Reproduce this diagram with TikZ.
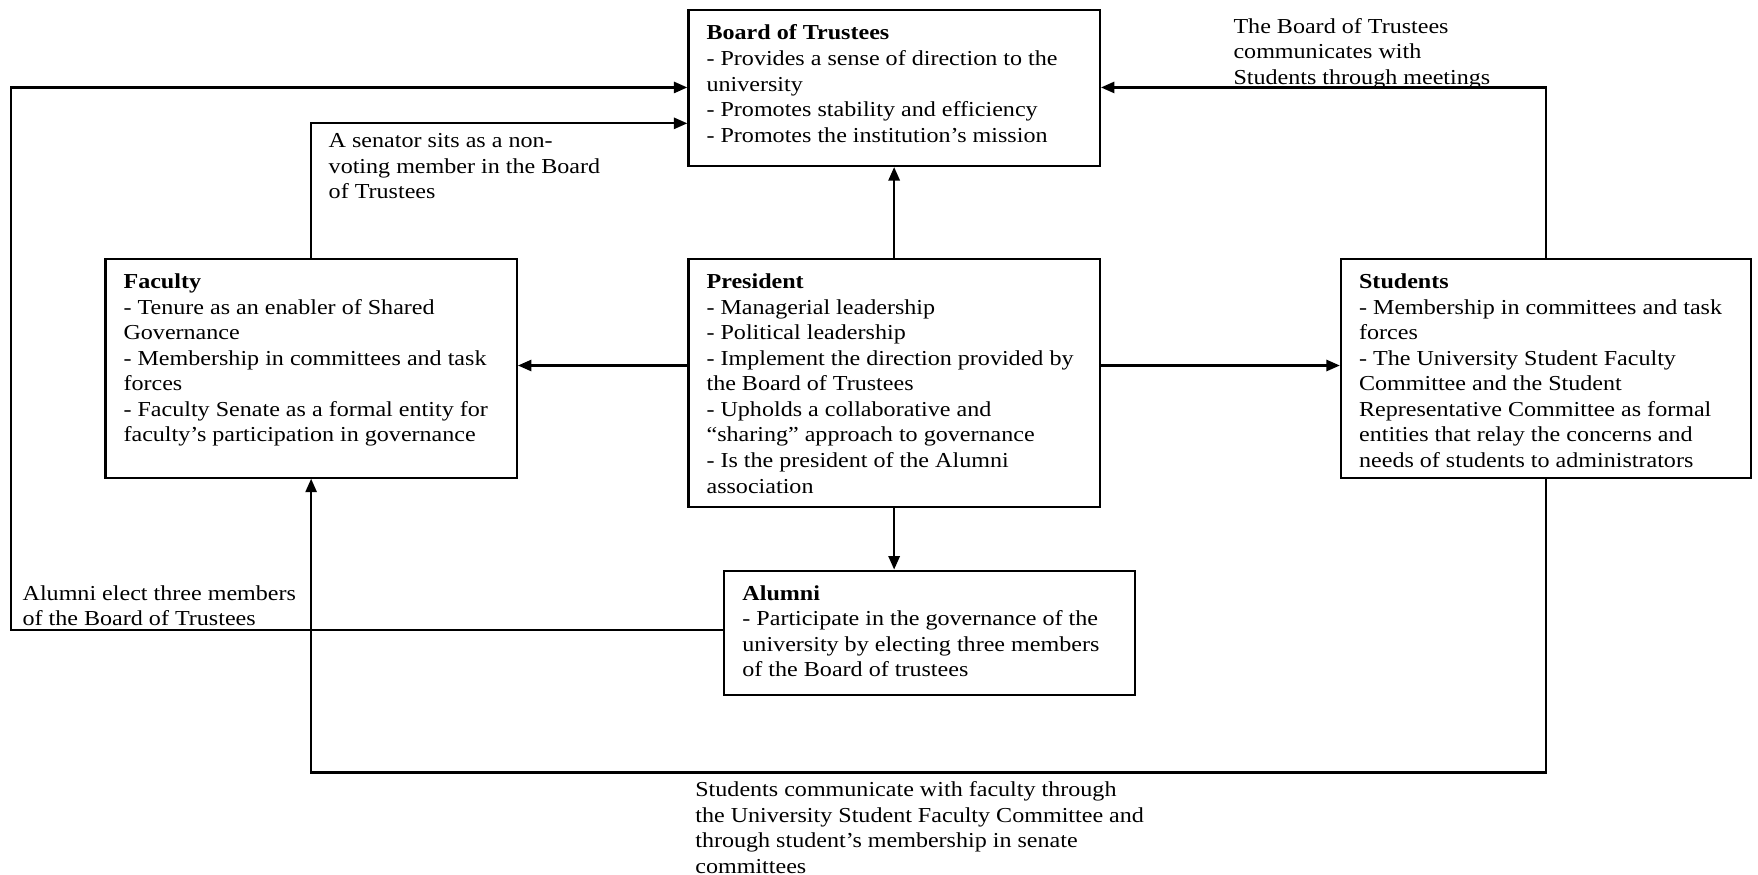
\documentclass[tikz,border=0pt]{standalone}
\usepackage{fontspec}
\setmainfont{Liberation Serif}[FakeStretch=1.13]
\usetikzlibrary{arrows.meta}
\begin{document}
\begin{tikzpicture}[x=1pt,y=-1pt,
  box/.style={draw, line width=2pt, rectangle, inner sep=0pt, anchor=north west},
  txt/.style={inner sep=0pt, align=left, anchor=north west, yshift=-3pt,
    font=\fontsize{19}{22.8}\selectfont, execute at begin node=\rule{0pt}{15pt}},
  conn/.style={line width=2pt},
  arr/.style={conn, -{Triangle[length=12pt,width=10pt]}}]
\useasboundingbox (0,0) rectangle (1568,780);

% boxes
\node[box, minimum width=367pt, minimum height=139pt] (board) at (613,8) {};
\node[box, minimum width=367pt, minimum height=195pt] (fac) at (93,230) {};
\node[box, minimum width=367pt, minimum height=221pt] (pres) at (613,230) {};
\node[box, minimum width=366pt, minimum height=195pt] (stud) at (1195,230) {};
\node[box, minimum width=366pt, minimum height=111pt] (alum) at (645,508) {};

% box contents
\node[txt] (boardT) at (630,19) {\textbf{Board of Trustees}\\
- Provides a sense of direction to the\\
university\\
- Promotes stability and efficiency\\
- Promotes the institution’s mission};

\node[txt] (facT) at (110,241) {\textbf{Faculty}\\
- Tenure as an enabler of Shared\\
Governance\\
- Membership in committees and task\\
forces\\
- Faculty Senate as a formal entity for\\
faculty’s participation in governance};

\node[txt] (presT) at (630,241) {\textbf{President}\\
- Managerial leadership\\
- Political leadership\\
- Implement the direction provided by\\
the Board of Trustees\\
- Upholds a collaborative and\\
“sharing” approach to governance\\
- Is the president of the Alumni\\
association};

\node[txt] (studT) at (1212,241) {\textbf{Students}\\
- Membership in committees and task\\
forces\\
- The University Student Faculty\\
Committee and the Student\\
Representative Committee as formal\\
entities that relay the concerns and\\
needs of students to administrators};

\node[txt] (alumT) at (662,519) {\textbf{Alumni}\\
- Participate in the governance of the\\
university by electing three members\\
of the Board of trustees};

% connector labels
\node[txt] (labStud) at (1100,13) {The Board of Trustees\\
communicates with\\
Students through meetings};
\node[txt] (labSen) at (293,116) {A senator sits as a non-\\
voting member in the Board\\
of Trustees};
\node[txt] (labAlum) at (20,519) {Alumni elect three members\\
of the Board of Trustees};
\node[txt] (labBot) at (620,694) {Students communicate with faculty through\\
the University Student Faculty Committee and\\
through student’s membership in senate\\
committees};

% routing levels
\coordinate (yTop) at (0,78);
\coordinate (ySen) at (0,110);
\coordinate (yMid) at (0,326);
\coordinate (xLeft) at (10,562);
\coordinate (yBot) at (0,689);

% connectors
\draw[arr] (alum.west |- xLeft) -- (xLeft) |- (board.west |- yTop);
\draw[arr] (fac.north) |- (board.west |- ySen);
\draw[arr] (stud.north) |- (board.east |- yTop);
\draw[arr] (pres.north) -- (board.south);
\draw[arr] (pres.west |- yMid) -- (fac.east |- yMid);
\draw[arr] (pres.east |- yMid) -- (stud.west |- yMid);
\draw[arr] (pres.south) -- (alum.north -| pres.south);
\draw[arr] (stud.south) -- (stud.south |- yBot) -| (fac.south);
\end{tikzpicture}
\end{document}
